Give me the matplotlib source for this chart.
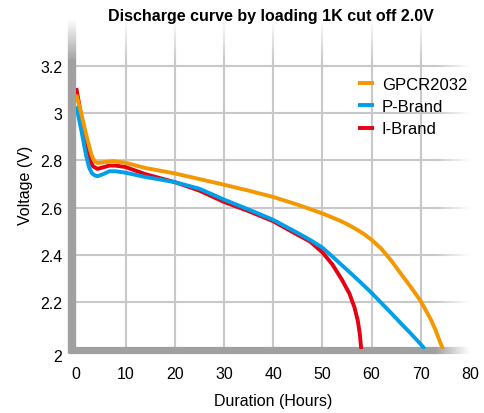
import numpy as np
import matplotlib
matplotlib.use('Agg')
import matplotlib.pyplot as plt
import matplotlib.transforms as mtransforms

plt.rcParams['font.family'] = 'sans-serif'
plt.rcParams['font.sans-serif'] = ['Liberation Sans']

# hours / volts
gpcr_h = [0.0, 1.0, 2.0, 3.0, 3.4, 3.8, 4.3, 5.5, 7.4, 10, 14, 20, 25, 30, 35, 40,
          45, 50, 53.5, 55, 57, 58.5, 60, 62, 64, 66, 68, 70, 72, 73, 74, 74.5]
gpcr_v = [3.08, 3.0, 2.91, 2.83, 2.808, 2.795, 2.789, 2.792, 2.797, 2.79, 2.768,
          2.745, 2.721, 2.697, 2.672, 2.645, 2.612, 2.575, 2.545, 2.53, 2.507, 2.487,
          2.463, 2.425, 2.375, 2.318, 2.262, 2.203, 2.127, 2.08, 2.025, 2.0]

pbrand_h = [0.0, 1.0, 2.0, 2.6, 3.2, 3.8, 4.3, 5.5, 6.7, 8, 10, 14, 20, 25, 30, 35,
            40, 45, 47.5, 50, 52, 54, 56, 58, 60, 62, 64, 66, 68, 70, 70.8]
pbrand_v = [3.03, 2.93, 2.82, 2.77, 2.745, 2.736, 2.733, 2.742, 2.754, 2.754, 2.748,
            2.73, 2.708, 2.68, 2.634, 2.592, 2.548, 2.492, 2.463, 2.43, 2.393, 2.355,
            2.317, 2.278, 2.238, 2.195, 2.152, 2.108, 2.065, 2.02, 2.0]

ibrand_h = [0.0, 1.0, 2.0, 2.8, 3.4, 4.3, 5.3, 6.7, 8, 10, 14, 20, 25, 30, 35, 40,
            45, 47.5, 50, 52, 54, 55.5, 56.5, 57.2, 57.6, 57.9]
ibrand_v = [3.107, 2.99, 2.87, 2.80, 2.775, 2.764, 2.77, 2.778, 2.778, 2.772, 2.742,
            2.708, 2.672, 2.624, 2.585, 2.542, 2.484, 2.456, 2.41, 2.36, 2.293, 2.235,
            2.178, 2.12, 2.065, 2.0]

x_ticks = [0, 10, 20, 30, 40, 50, 60, 70, 80]
y_ticks = [2, 2.2, 2.4, 2.6, 2.8, 3, 3.2]
y_ticklabels = ['2', '2.2', '2.4', '2.6', '2.8', '3', '3.2']

orange = '#f39800'
blue = '#00a0e9'
red = '#e60012'
spine_gray = '#a0a0a0'
grid_gray = '#c8c8c8'

fig = plt.figure(figsize=(4.84, 4.14), dpi=100)
ax = fig.add_axes([76.3 / 484, 64 / 414, 393.7 / 484, 330 / 414])

for s in ax.spines.values():
    s.set_visible(False)

# grid
for x in x_ticks[1:-1]:
    ax.plot([x, x], [2, 3.4], color=grid_gray, lw=1.5, zorder=1)
for y in y_ticks[1:]:
    ax.plot([0, 80], [y, y], color=grid_gray, lw=1.5, zorder=1)

# thick gray axis bars
ax.plot([-0.8, -0.8], [1.985, 3.4], color=spine_gray, lw=6, solid_capstyle='butt',
        clip_on=False, zorder=2)
ax.plot([-1.6, 80.5], [1.9937, 1.9937], color=spine_gray, lw=5.2, solid_capstyle='butt',
        clip_on=False, zorder=2)

# white fade toward top and right
nx, ny = 400, 200
gx = np.linspace(-2, 81, nx)
gy = np.linspace(1.97, 3.41, ny)
fade_r = np.clip((gx - 73) / 7.0, 0, 1)
fade_t = np.clip((gy - 3.22) / 0.18, 0, 1)
alpha = np.maximum(fade_r[None, :], fade_t[:, None])
img = np.ones((ny, nx, 4))
img[..., 3] = alpha
ax.imshow(img, extent=[-2, 81, 1.97, 3.41], origin='lower', aspect='auto',
          interpolation='bilinear', clip_on=False, zorder=3)

ax.plot(ibrand_h, ibrand_v, color=red, lw=2.8, label='I-Brand', zorder=4,
        solid_capstyle='butt', solid_joinstyle='round')
ax.plot(pbrand_h, pbrand_v, color=blue, lw=2.8, label='P-Brand', zorder=5,
        solid_capstyle='butt', solid_joinstyle='round')
ax.plot(gpcr_h, gpcr_v, color=orange, lw=2.8, label='GPCR2032', zorder=6,
        solid_capstyle='butt', solid_joinstyle='round')

ax.set_xlim(0, 80)
ax.set_ylim(2, 3.4)
ax.set_xticks(x_ticks)
ax.set_yticks(y_ticks)
ax.set_yticklabels(y_ticklabels)
ax.tick_params(axis='both', length=0, labelsize=11.5)
ax.tick_params(axis='y', pad=10)
ax.tick_params(axis='x', pad=12)

# bottom "2" label sits a little lower in the original
lbl = ax.get_yticklabels()[0]
lbl.set_transform(lbl.get_transform() +
                  mtransforms.ScaledTranslation(0, -6 / 100, fig.dpi_scale_trans))

ax.set_xlabel('Duration (Hours)', fontsize=11.5, labelpad=9)
ax.set_ylabel('Voltage (V)', fontsize=11.5, labelpad=5)
fig.text(271 / 484, 1 - 16 / 414, 'Discharge curve by loading 1K cut off 2.0V',
         fontsize=11.5, fontweight='bold', ha='center', va='center')

handles, labels = ax.get_legend_handles_labels()
leg = ax.legend(handles[::-1], labels[::-1], loc='upper left',
                bbox_to_anchor=(0.715, 0.825), frameon=False, fontsize=12,
                handlelength=1.0, handletextpad=0.45, labelspacing=0.44,
                borderpad=0, borderaxespad=0)
leg.set_zorder(10)

fig.savefig('out.png', dpi=100)
